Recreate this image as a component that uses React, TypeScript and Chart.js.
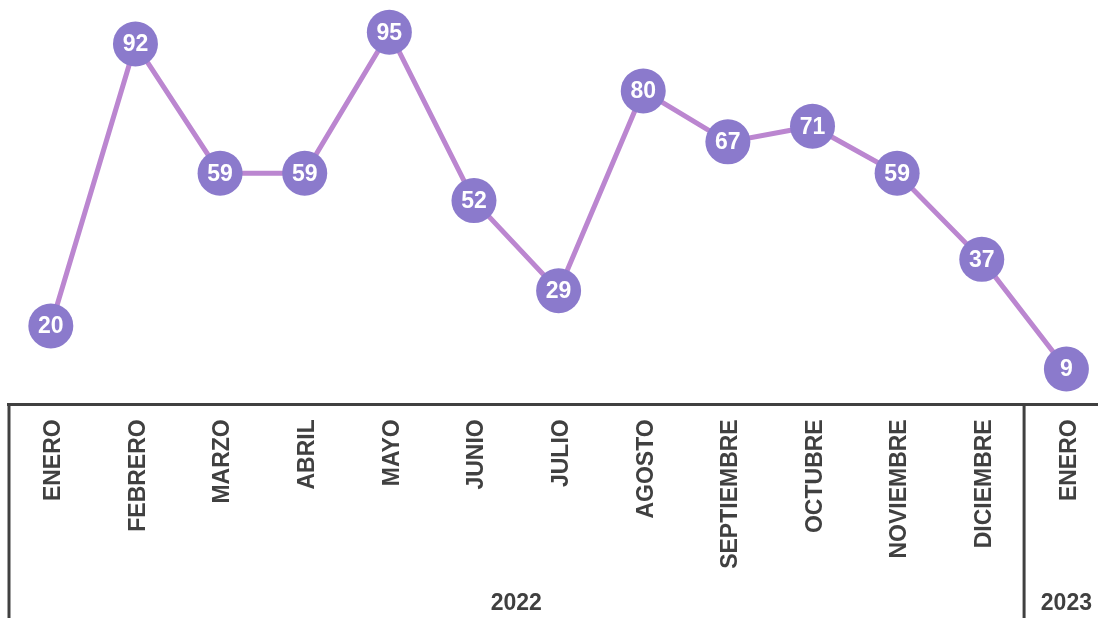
import React, { useEffect, useRef } from "react";
import { Chart, registerables } from "chart.js";

Chart.register(...registerables);

const months = [
  "ENERO", "FEBRERO", "MARZO", "ABRIL", "MAYO", "JUNIO", "JULIO",
  "AGOSTO", "SEPTIEMBRE", "OCTUBRE", "NOVIEMBRE", "DICIEMBRE", "ENERO",
];
const values = [20, 92, 59, 59, 95, 52, 29, 80, 67, 71, 59, 37, 9];
const years = ["2022", "2023"];
const yearSpans = [12, 1];

const FONT = '"Liberation Sans", Arial, sans-serif';
const TEXT = "#404040";
const POINT = "#8b7acc";
const LINE = "#bb86d0";

const labelPlugin = {
  id: "pointLabels",
  afterDatasetsDraw(chart: any) {
    const ctx = chart.ctx;
    const meta = chart.getDatasetMeta(0);
    ctx.save();
    ctx.fillStyle = "#ffffff";
    ctx.font = `bold 23px ${FONT}`;
    ctx.textAlign = "center";
    ctx.textBaseline = "middle";
    meta.data.forEach((pt: any, i: number) => {
      ctx.fillText(String(values[i]), pt.x, pt.y + 1);
    });
    ctx.restore();
  },
};

const groupPlugin = {
  id: "yearGroups",
  afterDraw(chart: any) {
    const ctx = chart.ctx;
    const xs = chart.scales.x;
    const area = chart.chartArea;
    const H = chart.height;
    ctx.save();
    ctx.strokeStyle = TEXT;
    ctx.lineWidth = 3;
    const drawV = (x: number) => {
      ctx.beginPath();
      ctx.moveTo(x, area.bottom);
      ctx.lineTo(x, H);
      ctx.stroke();
    };
    drawV(area.left + 0.5);
    ctx.fillStyle = TEXT;
    ctx.font = `bold 23px ${FONT}`;
    ctx.textAlign = "center";
    ctx.textBaseline = "middle";
    let start = 0;
    yearSpans.forEach((span, gi) => {
      const end = start + span - 1;
      const cx = (xs.getPixelForValue(start) + xs.getPixelForValue(end)) / 2;
      ctx.fillText(years[gi], cx, H - 14);
      if (gi < yearSpans.length - 1) {
        const sx = (xs.getPixelForValue(end) + xs.getPixelForValue(end + 1)) / 2;
        drawV(sx);
      }
      start += span;
    });
    ctx.restore();
  },
};

export default function App() {
  const ref = useRef<HTMLCanvasElement>(null);
  useEffect(() => {
    if (!ref.current) return;
    const chart = new Chart(ref.current, {
      type: "line",
      data: {
        labels: months,
        datasets: [
          {
            data: values,
            borderColor: LINE,
            borderWidth: 5,
            pointBackgroundColor: POINT,
            pointBorderColor: POINT,
            pointBorderWidth: 0,
            pointRadius: 22.5,
            pointHoverRadius: 22.5,
            tension: 0,
            clip: false as any,
          },
        ],
      },
      options: {
        animation: false,
        responsive: false,
        events: [],
        layout: { autoPadding: false, padding: { top: 12.6, left: 8.5, right: 0, bottom: 0 } },
        plugins: { legend: { display: false }, tooltip: { enabled: false } },
        scales: {
          x: {
            type: "category",
            offset: true,
            grid: { display: false, drawTicks: false, tickLength: 0 },
            border: { display: true, color: TEXT, width: 3 },
            ticks: {
              autoSkip: false,
              minRotation: 90,
              maxRotation: 90,
              padding: 15,
              labelOffset: 3,
              color: TEXT,
              font: { family: FONT, size: 23, weight: "bold" },
            },
            afterFit: (s: any) => {
              s.height = 213.7;
            },
          },
          y: { display: false, min: 0, max: 100 },
        },
      },
      plugins: [labelPlugin, groupPlugin],
    });
    return () => chart.destroy();
  }, []);
  return (
    <div style={{ position: "absolute", left: 0, top: 0, width: 1098, height: 618, overflow: "hidden", background: "#fff" }}>
      <canvas ref={ref} width={1109} height={618} style={{ width: 1109, height: 618, display: "block" }} />
    </div>
  );
}
